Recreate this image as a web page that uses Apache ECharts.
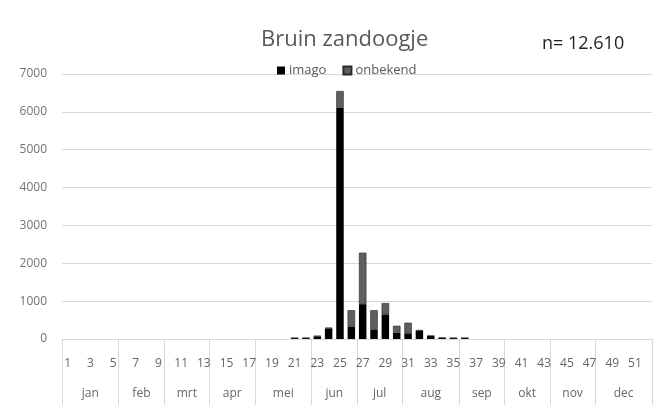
<!DOCTYPE html>
<html>
<head>
<meta charset="utf-8">
<script src="https://cdn.jsdelivr.net/npm/echarts@6/dist/echarts.min.js"></script>
<style>
html,body{margin:0;padding:0;background:#fff;}
#c{width:660px;height:416px;}
</style>
</head>
<body>
<div id="c"></div>
<script>
// weeks 1..52
var weeks = [];
for (var w = 1; w <= 52; w++) weeks.push(String(w));

// weekly counts (week 1 .. 52)
var imago = [0,0,0,0,0,0,0,0,0,0, 0,0,0,0,0,0,0,0,0,0,
             25,25,70,280,6110,330,920,250,650,160,
             150,220,80,30,25,25,0,0,0,0,
             0,0,0,0,0,0,0,0,0,0, 0,0];
var onbekend = [0,0,0,0,0,0,0,0,0,0, 0,0,0,0,0,0,0,0,0,0,
                5,5,15,20,440,430,1360,510,300,190,
                280,15,10,5,5,5,0,0,0,0,
                0,0,0,0,0,0,0,0,0,0, 0,0];

var months = ['jan','feb','mrt','apr','mei','jun','jul','aug','sep','okt','nov','dec'];
var weeksPerMonth = [5,4,4,4,5,4,4,5,4,4,4,5];

var bounds = [0], mids = [], midName = {};
var acc = 0;
for (var i = 0; i < months.length; i++) {
  var start = acc;
  acc += weeksPerMonth[i];
  bounds.push(acc);
  var m = (start + acc) / 2;
  mids.push(m);
  midName[m] = months[i];
}
function nz(arr) { return arr.map(function (v) { return v === 0 ? null : v; }); }

var FONT = '"Open Sans"';
var chart = echarts.init(document.getElementById('c'), null, {renderer: 'canvas'});
chart.setOption({
  animation: false,
  textStyle: {fontFamily: FONT},
  title: [
    {text: 'Bruin zandoogje', left: 256, top: 24,
     textStyle: {fontSize: 22, fontWeight: 'normal', color: '#595959', fontFamily: FONT}},
    {text: 'n= 12.610', left: 537, top: 30,
     textStyle: {fontSize: 18, fontWeight: 'normal', color: '#1f1f1f', fontFamily: FONT}}
  ],
  legend: {
    data: ['imago', 'onbekend'],
    left: 272, top: 59,
    itemWidth: 8, itemHeight: 8, itemGap: 16,
    icon: 'rect',
    textStyle: {fontSize: 13, color: '#595959', fontFamily: FONT, padding: [0,0,0,-1]}
  },
  grid: {left: 62, right: 8, top: 74, bottom: 77, containLabel: false},
  xAxis: [
    {
      type: 'category', data: weeks, position: 'bottom',
      axisLine: {lineStyle: {color: '#d9d9d9'}},
      axisTick: {show: false},
      axisLabel: {interval: 1, margin: 19, fontSize: 12, color: '#666666', fontFamily: FONT}
    },
    {
      type: 'value', min: 0, max: 52, position: 'bottom',
      axisLine: {show: false},
      splitLine: {show: false},
      axisTick: {show: true, customValues: bounds, length: 66, lineStyle: {color: '#d9d9d9'}},
      axisLabel: {customValues: mids, margin: 49, fontSize: 12, color: '#666666', fontFamily: FONT,
                  formatter: function (v) { return midName[v] || ''; }}
    }
  ],
  yAxis: {
    type: 'value', min: 0, max: 7000, interval: 1000,
    axisLine: {show: false}, axisTick: {show: false},
    splitLine: {lineStyle: {color: '#d9d9d9'}},
    axisLabel: {margin: 15, fontSize: 12, color: '#737373', fontFamily: FONT,
                formatter: function (v) { return String(v); }}
  },
  series: [
    {name: 'imago', type: 'bar', stack: 's', data: nz(imago), xAxisIndex: 0,
     barWidth: '66%', itemStyle: {color: '#000000'}},
    {name: 'onbekend', type: 'bar', stack: 's', data: nz(onbekend), xAxisIndex: 0,
     barWidth: '66%', itemStyle: {color: '#5f5f5f', borderColor: '#2a2a2a', borderWidth: 0.6}}
  ]
});
</script>
</body>
</html>
